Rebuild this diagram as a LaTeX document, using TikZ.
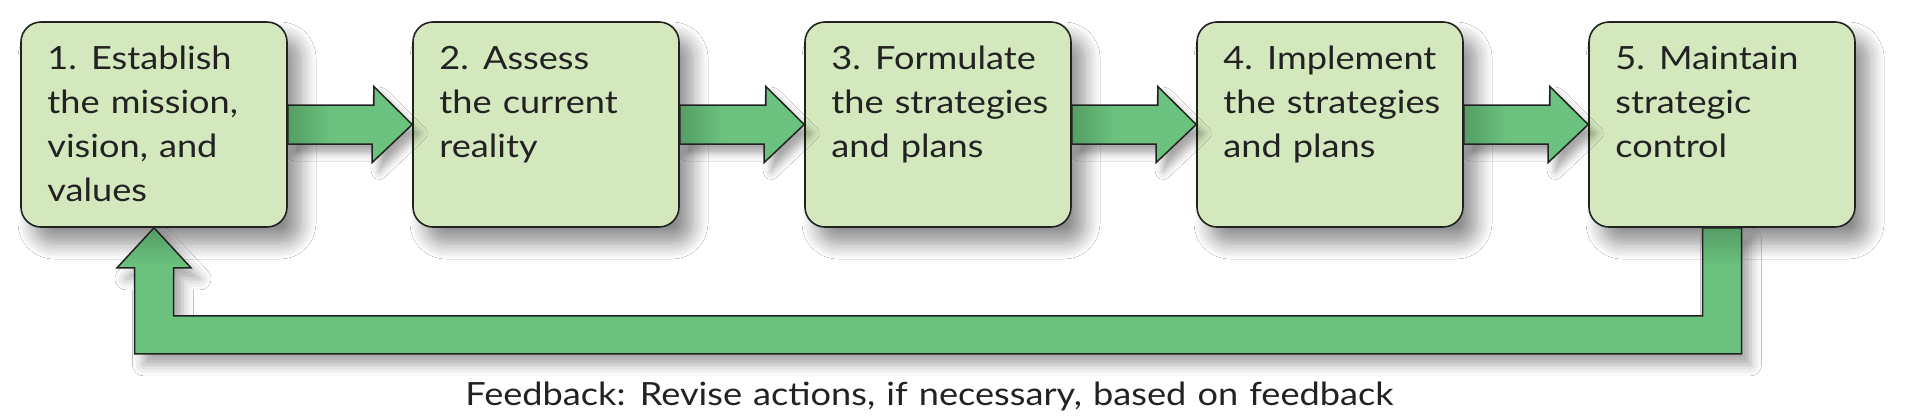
\documentclass[tikz,border=0pt]{standalone}
\usepackage{fontspec}
\setmainfont[FakeStretch=1.13,WordSpace=1.2]{Lato}
\usetikzlibrary{calc,shadows.blur}
\definecolor{ardark}{RGB}{86,158,102}
\definecolor{arlight}{RGB}{106,194,126}
\definecolor{boxfill}{RGB}{212,232,190}
\definecolor{edge}{RGB}{34,34,34}
\definecolor{txtcol}{RGB}{34,34,34}
\pgfdeclarehorizontalshading{harrowshade}{100bp}{color(0bp)=(ardark); color(26bp)=(ardark); color(42bp)=(arlight); color(100bp)=(arlight)}
\pgfdeclareverticalshading{varrowshade}{100bp}{color(0bp)=(arlight); color(60bp)=(arlight); color(74bp)=(ardark); color(100bp)=(ardark)}
\tikzset{
  stepbox/.style={draw=edge, line width=1.6pt, fill=boxfill, rounded corners=20pt,
    minimum width=266pt, minimum height=205pt, inner sep=0pt,
    blur shadow={shadow xshift=13pt, shadow yshift=-16pt, shadow blur radius=16pt, shadow blur steps=12, shadow opacity=45}},
  boxtxt/.style={anchor=north west, inner sep=0pt, align=left, text=txtcol,
    font=\fontsize{32}{44}\selectfont},
  harrow/.style={draw=edge, line width=1.5pt, line join=miter, shading=harrowshade,
    blur shadow={shadow xshift=7pt, shadow yshift=-9pt, shadow blur radius=8pt, shadow opacity=35}},
  farrow/.style={draw=edge, line width=1.5pt, line join=miter, shading=varrowshade,
    blur shadow={shadow xshift=9pt, shadow yshift=-11pt, shadow blur radius=11pt, shadow opacity=35}},
  fbtxt/.style={inner sep=0pt, text=txtcol, font=\fontsize{32}{38}\selectfont}
}
\begin{document}
\begin{tikzpicture}[x=1pt,y=-1pt]
\useasboundingbox[fill=white] (0,0) rectangle (1918,416);
% boxes
\node[stepbox] (b1) at (154,124.5) {};
\node[stepbox] (b2) at (546,124.5) {};
\node[stepbox] (b3) at (938,124.5) {};
\node[stepbox] (b4) at (1330,124.5) {};
\node[stepbox] (b5) at (1722,124.5) {};
% texts
\node[boxtxt] (t1) at ($(b1.north west)+(27,25)$) {1. Establish\\the mission,\\vision, and\\values};
\node[boxtxt] (t2) at ($(b2.north west)+(27,25)$) {2. Assess\\the current\\reality};
\node[boxtxt] (t3) at ($(b3.north west)+(27,25)$) {3. Formulate\\the strategies\\and plans};
\node[boxtxt] (t4) at ($(b4.north west)+(27,25)$) {4. Implement\\the strategies\\and plans};
\node[boxtxt] (t5) at ($(b5.north west)+(27,25)$) {5. Maintain\\strategic\\control};
% horizontal arrows
\foreach \a/\b in {b1/b2,b2/b3,b3/b4,b4/b5}{
  \path[harrow] ($(\a.east)+(0,-19.5)$) -- ++(86,0) -- ++(0,-18.5) -- (\b.west)
    -- ++(-40,38) -- ++(0,-18.5) -- ($(\a.east)+(0,19.5)$) -- cycle;
}
% feedback arrow
\path[farrow] ($(b5.south)+(-19.5,0)$) -- ($(b5.south)+(-19.5,88)$)
  -- ($(b1.south)+(19.5,88)$) -- ($(b1.south)+(19.5,40)$)
  -- ($(b1.south)+(37,40)$) -- (b1.south) -- ($(b1.south)+(-37,40)$)
  -- ($(b1.south)+(-19.5,40)$) -- ($(b1.south)+(-19.5,126)$)
  -- ($(b5.south)+(19.5,126)$) -- ($(b5.south)+(19.5,0)$) -- cycle;
\node[fbtxt, anchor=base] (fb) at (929.5,405) {Feedback: Revise actions, if necessary, based on feedback};
\end{tikzpicture}
\end{document}
